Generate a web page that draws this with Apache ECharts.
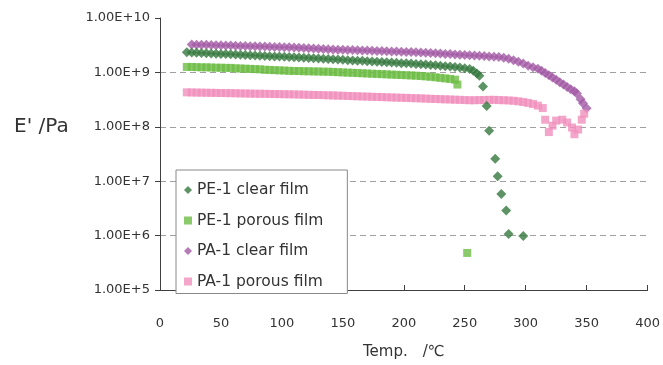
<!DOCTYPE html>
<html>
<head>
<meta charset="utf-8">
<script src="https://cdn.jsdelivr.net/npm/echarts@6/dist/echarts.min.js"></script>
<style>
  html, body { margin: 0; padding: 0; background: #fff; }
  #main { width: 663px; height: 365px; }
</style>
</head>
<body>
<div id="main"></div>
<script>
// temperature (degC), storage modulus E' (Pa)
const pe1Clear = [
  [22, 2.34e9], [26, 2.32e9], [30, 2.30e9], [34, 2.28e9], [38, 2.25e9], [42, 2.23e9], [46, 2.21e9], [50, 2.19e9],
  [54, 2.17e9], [58, 2.15e9], [62, 2.13e9], [66, 2.11e9], [70, 2.09e9], [74, 2.07e9], [78, 2.05e9], [82, 2.03e9],
  [86, 2.01e9], [90, 1.99e9], [94, 1.97e9], [98, 1.95e9], [102, 1.93e9], [106, 1.91e9], [110, 1.90e9], [114, 1.88e9],
  [118, 1.86e9], [122, 1.84e9], [126, 1.82e9], [130, 1.80e9], [134, 1.78e9], [138, 1.76e9], [142, 1.74e9], [146, 1.72e9],
  [150, 1.70e9], [154, 1.68e9], [158, 1.66e9], [162, 1.64e9], [166, 1.63e9], [170, 1.61e9], [174, 1.59e9], [178, 1.57e9],
  [182, 1.55e9], [186, 1.53e9], [190, 1.52e9], [194, 1.50e9], [198, 1.48e9], [202, 1.47e9], [206, 1.45e9], [210, 1.43e9],
  [214, 1.41e9], [218, 1.39e9], [222, 1.37e9], [226, 1.35e9], [230, 1.32e9], [234, 1.30e9], [238, 1.28e9], [242, 1.26e9],
  [246, 1.23e9], [250, 1.19e9], [254, 1.16e9], [257, 1.07e9], [260, 9.5e8], [262, 8.7e8],
  [265, 5.5e8], [268, 2.4e8], [270, 8.5e7], [275, 2.6e7], [277, 1.23e7], [280, 5.8e6], [284, 2.9e6], [286, 1.07e6], [298, 9.8e5]
];

const pe1Porous = [
  [22, 1.26e9], [26, 1.26e9], [30, 1.25e9], [34, 1.24e9], [38, 1.24e9], [42, 1.23e9], [46, 1.22e9], [50, 1.22e9],
  [54, 1.21e9], [58, 1.21e9], [62, 1.19e9], [66, 1.18e9], [70, 1.17e9], [74, 1.16e9], [78, 1.15e9], [82, 1.14e9],
  [86, 1.12e9], [90, 1.11e9], [94, 1.10e9], [98, 1.09e9], [102, 1.08e9], [106, 1.07e9], [110, 1.06e9], [114, 1.06e9],
  [118, 1.05e9], [122, 1.05e9], [126, 1.04e9], [130, 1.04e9], [134, 1.03e9], [138, 1.03e9], [142, 1.02e9], [146, 1.01e9],
  [150, 1.00e9], [154, 9.91e8], [158, 9.82e8], [162, 9.73e8], [166, 9.64e8], [170, 9.55e8], [174, 9.46e8], [178, 9.38e8],
  [182, 9.29e8], [186, 9.20e8], [190, 9.12e8], [194, 9.04e8], [198, 8.95e8], [202, 8.87e8], [206, 8.79e8], [210, 8.71e8],
  [214, 8.59e8], [218, 8.45e8], [222, 8.32e8], [226, 8.13e8], [230, 7.94e8], [234, 7.76e8], [238, 7.59e8], [242, 7.36e8],
  [244, 5.98e8], [252, 4.8e5]
];

const pa1Clear = [
  [26, 3.27e9], [30, 3.24e9], [34, 3.23e9], [38, 3.21e9], [42, 3.18e9], [46, 3.17e9], [50, 3.15e9], [54, 3.13e9],
  [58, 3.11e9], [62, 3.09e9], [66, 3.07e9], [70, 3.05e9], [74, 3.03e9], [78, 3.01e9], [82, 3.00e9], [86, 2.98e9],
  [90, 2.96e9], [94, 2.94e9], [98, 2.92e9], [102, 2.90e9], [106, 2.89e9], [110, 2.86e9], [114, 2.83e9], [118, 2.81e9],
  [122, 2.77e9], [126, 2.75e9], [130, 2.72e9], [134, 2.69e9], [138, 2.66e9], [142, 2.64e9], [146, 2.62e9], [150, 2.61e9],
  [154, 2.59e9], [158, 2.57e9], [162, 2.55e9], [166, 2.54e9], [170, 2.52e9], [174, 2.50e9], [178, 2.48e9], [182, 2.47e9],
  [186, 2.45e9], [190, 2.43e9], [194, 2.42e9], [198, 2.40e9], [202, 2.38e9], [206, 2.37e9], [210, 2.35e9], [214, 2.32e9],
  [218, 2.30e9], [222, 2.27e9], [226, 2.24e9], [230, 2.22e9], [234, 2.19e9], [238, 2.17e9], [242, 2.14e9], [246, 2.12e9],
  [250, 2.09e9], [254, 2.07e9], [258, 2.05e9], [262, 2.02e9], [266, 2.00e9], [270, 1.97e9], [274, 1.94e9], [278, 1.92e9],
  [282, 1.86e9], [286, 1.78e9], [290, 1.68e9], [294, 1.57e9], [298, 1.45e9], [302, 1.33e9], [306, 1.24e9], [310, 1.17e9],
  [313, 1.07e9], [316, 9.8e8], [319, 8.9e8], [322, 8.1e8], [325, 7.3e8], [328, 6.6e8], [331, 6.0e8], [334, 5.4e8],
  [337, 4.9e8], [340, 4.5e8], [342, 4.1e8], [345, 3.2e8], [347, 2.7e8], [350, 2.2e8]
];

const pa1Porous = [
  [22, 4.30e8], [26, 4.28e8], [30, 4.26e8], [34, 4.25e8], [38, 4.23e8], [42, 4.21e8], [46, 4.20e8], [50, 4.18e8],
  [54, 4.16e8], [58, 4.15e8], [62, 4.13e8], [66, 4.11e8], [70, 4.09e8], [74, 4.08e8], [78, 4.06e8], [82, 4.05e8],
  [86, 4.04e8], [90, 4.02e8], [94, 4.00e8], [98, 3.99e8], [102, 3.97e8], [106, 3.96e8], [110, 3.94e8], [114, 3.92e8],
  [118, 3.90e8], [122, 3.87e8], [126, 3.85e8], [130, 3.84e8], [134, 3.82e8], [138, 3.79e8], [142, 3.77e8], [146, 3.74e8],
  [150, 3.72e8], [154, 3.69e8], [158, 3.66e8], [162, 3.64e8], [166, 3.61e8], [170, 3.59e8], [174, 3.56e8], [178, 3.54e8],
  [182, 3.52e8], [186, 3.49e8], [190, 3.47e8], [194, 3.44e8], [198, 3.42e8], [202, 3.40e8], [206, 3.37e8], [210, 3.35e8],
  [214, 3.33e8], [218, 3.30e8], [222, 3.27e8], [226, 3.25e8], [230, 3.22e8], [234, 3.20e8], [238, 3.18e8], [242, 3.15e8],
  [246, 3.13e8], [250, 3.10e8], [254, 3.08e8], [258, 3.08e8], [262, 3.10e8], [266, 3.11e8], [270, 3.13e8], [274, 3.13e8],
  [278, 3.10e8], [282, 3.08e8], [286, 3.05e8], [290, 3.01e8], [294, 2.94e8], [298, 2.85e8], [302, 2.75e8], [306, 2.63e8],
  [310, 2.45e8], [314, 2.21e8],
  [316, 1.35e8], [319, 8.0e7], [322, 1.05e8], [325, 1.3e8], [330, 1.35e8], [334, 1.2e8], [338, 9.7e7], [340, 7.3e7],
  [343, 8.9e7], [346, 1.35e8], [348, 1.74e8]
];

const seriesNames = ['PE-1 clear film', 'PE-1 porous film', 'PA-1 clear film', 'PA-1 porous film'];
const xTicks = [0, 50, 100, 150, 200, 250, 300, 350, 400];

const font = 'DejaVu Sans';
const axisColor = '#404040';

const chart = echarts.init(document.getElementById('main'));

const option = {
  animation: false,
  textStyle: { fontFamily: font },
  grid: { left: 160, right: 15, top: 18, bottom: 69 },
  // y axis title sits level with the 1.00E+08 line, not mid-axis
  graphic: [{
    type: 'text',
    left: 14,
    top: 117,
    style: { text: "E' /Pa", fontFamily: font, fontSize: 20, fill: '#333' }
  }],
  legend: {
    orient: 'vertical',
    left: 176,
    top: 170,
    backgroundColor: '#fff',
    borderColor: '#888',
    borderWidth: 1,
    borderRadius: 0,
    padding: [12, 24, 4, 8],
    itemGap: 14.5,
    itemWidth: 8,
    itemHeight: 8,
    textStyle: { fontFamily: font, fontSize: 15.5, color: '#333' },
    data: [
      { name: seriesNames[0], icon: 'diamond' },
      { name: seriesNames[1], icon: 'rect' },
      { name: seriesNames[2], icon: 'diamond' },
      { name: seriesNames[3], icon: 'rect' }
    ],
    z: 10
  },
  xAxis: {
    type: 'value',
    min: xTicks[0],
    max: xTicks[xTicks.length - 1],
    interval: 50,
    name: 'Temp.\u3000/\u2103',
    nameLocation: 'middle',
    nameGap: 55,
    nameTextStyle: { fontFamily: font, fontSize: 15, color: '#333' },
    axisLine: { lineStyle: { color: axisColor, width: 1 } },
    axisTick: { inside: true, length: 5, lineStyle: { color: axisColor } },
    axisLabel: { margin: 27, fontFamily: font, fontSize: 13, color: '#333' },
    splitLine: { show: false }
  },
  yAxis: {
    type: 'log',
    logBase: 10,
    min: 1e5,
    max: 1e10,
    axisLine: { show: true, lineStyle: { color: axisColor, width: 1 } },
    axisTick: { show: true, length: 5, lineStyle: { color: axisColor } },
    axisLabel: {
      margin: 10,
      fontFamily: font,
      fontSize: 13,
      color: '#333',
      formatter: v => v.toExponential(2).toUpperCase()
    },
    minorTick: { show: false },
    splitLine: {
      show: true,
      lineStyle: {
        type: [6, 4],
        width: 1,
        color: ['transparent', '#a0a0a0', '#a0a0a0', '#a0a0a0', '#a0a0a0', 'transparent']
      }
    }
  },
  series: [
    {
      name: seriesNames[0], type: 'scatter', symbol: 'diamond', symbolSize: 10,
      itemStyle: { color: '#36793f' }, data: pe1Clear, z: 3
    },
    {
      name: seriesNames[1], type: 'scatter', symbol: 'rect', symbolSize: 8,
      itemStyle: { color: '#6dbd45' }, data: pe1Porous, z: 2
    },
    {
      name: seriesNames[2], type: 'scatter', symbol: 'diamond', symbolSize: 10,
      itemStyle: { color: '#a35aa5' }, data: pa1Clear, z: 2
    },
    {
      name: seriesNames[3], type: 'scatter', symbol: 'rect', symbolSize: 8,
      itemStyle: { color: '#f090bd' }, data: pa1Porous, z: 2
    }
  ]
};

chart.setOption(option);
</script>
</body>
</html>
